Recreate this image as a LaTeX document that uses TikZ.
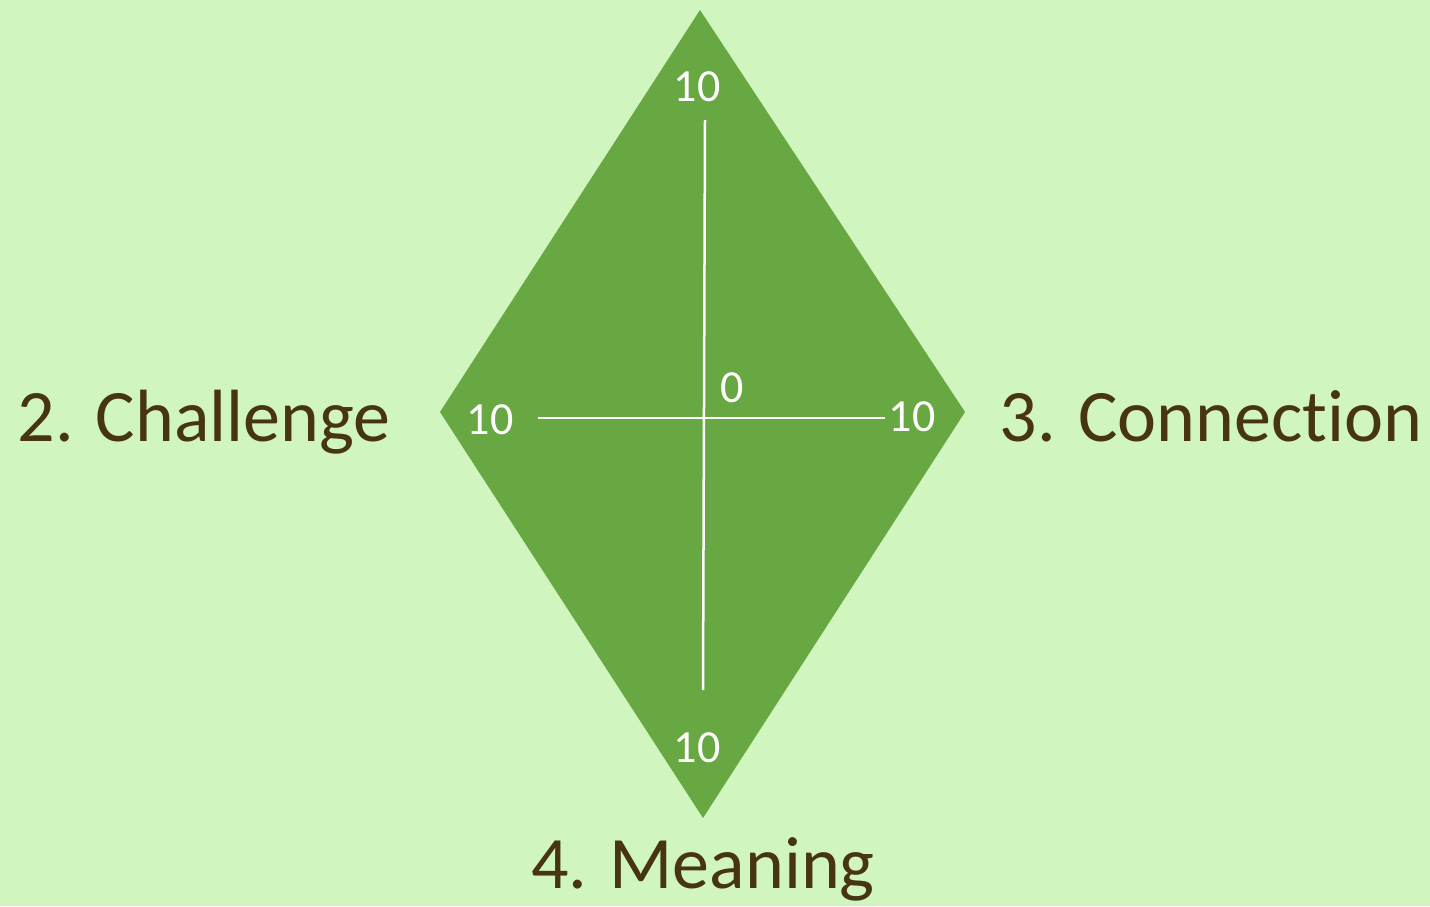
\documentclass[tikz,border=0pt]{standalone}
\usepackage{fontspec}
\setmainfont[Ligatures=NoCommon]{Carlito}
\usepackage{xcolor}
\definecolor{bgGreen}{RGB}{208,245,190}
\definecolor{kiteGreen}{RGB}{104,168,66}
\definecolor{labelBrown}{RGB}{70,52,18}

\begin{document}
\begin{tikzpicture}[x=1pt,y=-1pt,
  axis/.style={draw=white, line width=2.5pt},
  score/.style={text=white, font=\fontsize{46}{46}\selectfont},
  facet/.style={text=labelBrown, anchor=base, font=\fontsize{74}{74}\selectfont}]

\fill[bgGreen] (0,0) rectangle (1430,906);
\useasboundingbox (0,0) rectangle (1430,906);

\coordinate (top) at (700,10);
\coordinate (left) at (440,412);
\coordinate (right) at (965,412);
\coordinate (bottom) at (703,818);

\fill[kiteGreen] (top)--(right)--(bottom)--(left)--cycle;

\coordinate (ytop) at (705,120);
\coordinate (ybot) at (703,690);
\coordinate (xleft) at (538,418);
\coordinate (xright) at (885,418);

\draw[axis] (ytop) -- (ybot);
\draw[axis] (xleft) -- (xright);

\node[score] (stop) at (697,87) {10};
\node[score] (sleft) at (490,420) {10};
\node[score] (sright) at (912,417) {10};
\node[score] (sbottom) at (697,748) {10};
\node[score] (szero) at (732,388) {0};

\node[facet] (challenge) at (204,441) {2. Challenge};
\node[facet] (connection) at (1211,441) {3. Connect\kern0pt ion};
\node[facet] (meaning) at (703,888) {4. Meaning};

\end{tikzpicture}
\end{document}
